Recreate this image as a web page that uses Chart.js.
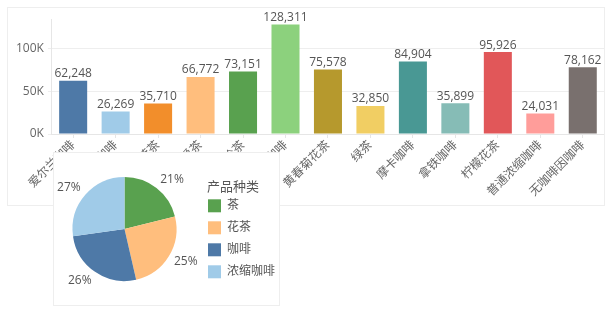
<!DOCTYPE html>
<html>
<head>
<meta charset="utf-8">
<script src="https://cdn.jsdelivr.net/npm/chart.js@4/dist/chart.umd.min.js"></script>
<style>
  body { margin: 0; background: #fff; width: 616px; height: 314px; position: relative; overflow: hidden; }
  #barBox { position: absolute; left: 7px; top: 7px; width: 598px; height: 199px; border: 1px solid #eee; box-sizing: border-box; }
  #pieBox { position: absolute; left: 53px; top: 152px; width: 227px; height: 154px; border: 1px solid #eee; box-sizing: border-box; background: #fff; }
</style>
</head>
<body>
<div id="barBox"><canvas id="barChart"></canvas></div>
<div id="pieBox"><canvas id="pieChart"></canvas></div>
<script>
const FONT = "'Open Sans', 'Noto Sans CJK SC', sans-serif";
const TXT = '#555';

// 产品销售额
const products = ['爱尔兰咖啡', '杏仁咖啡', '薄荷茶', '伯爵茶', '大吉岭茶', '哥伦比亚咖啡', '黄春菊花茶',
                  '绿茶', '摩卡咖啡', '拿铁咖啡', '柠檬花茶', '普通浓缩咖啡', '无咖啡因咖啡'];
const sales = [62248, 26269, 35710, 66772, 73151, 128311, 75578, 32850, 84904, 35899, 95926, 24031, 78162];
const barColors = ['#4E79A7', '#A0CBE8', '#F28E2B', '#FFBE7D', '#59A14F', '#8CD17D', '#B6992D',
                   '#F1CE63', '#499894', '#86BCB6', '#E15759', '#FF9D9A', '#79706E'];
const yTicks = [0, 50000, 100000];

// 产品种类占比
const legendTitle = '产品种类';
const types = ['茶', '花茶', '咖啡', '浓缩咖啡'];
const typeShare = [21.1, 25.3, 26.4, 27.2];
const typeColors = ['#59A14F', '#FFBE7D', '#4E79A7', '#A0CBE8'];

// 柱子上方的数值
const barLabels = {
    id: 'barLabels',
    afterDatasetsDraw(chart) {
        const c = chart.ctx;
        c.save();
        c.font = '12px ' + FONT;
        c.fillStyle = TXT;
        c.textAlign = 'center';
        c.textBaseline = 'bottom';
        chart.getDatasetMeta(0).data.forEach((bar, i) => {
            c.fillText(sales[i].toLocaleString('en-US'), bar.x, bar.y - 1);
        });
        c.restore();
    }
};

// 饼图外侧百分比 + 图例位置微调
const pieLabels = {
    id: 'pieLabels',
    afterLayout(chart) {
        chart.legend.left += 10;
        chart.legend.right += 10;
    },
    afterDatasetsDraw(chart) {
        const c = chart.ctx;
        c.save();
        c.font = '12px ' + FONT;
        c.fillStyle = TXT;
        c.textBaseline = 'middle';
        chart.getDatasetMeta(0).data.forEach((arc, i) => {
            const mid = (arc.startAngle + arc.endAngle) / 2;
            const cx = Math.cos(mid), sy = Math.sin(mid);
            c.textAlign = cx >= 0 ? 'left' : 'right';
            c.fillText(Math.round(typeShare[i]) + '%',
                       arc.x + cx * (arc.outerRadius + 6), arc.y + sy * (arc.outerRadius + 11));
        });
        c.restore();
    },
    afterDraw(chart) {
        // 图例标题
        const lg = chart.legend;
        const first = lg.legendHitBoxes[0];
        const c = chart.ctx;
        c.save();
        c.font = '13px ' + FONT;
        c.fillStyle = TXT;
        c.textAlign = 'left';
        c.textBaseline = 'middle';
        c.fillText(legendTitle, lg.left + 8, first.top - 12);
        c.restore();
    }
};

new Chart(document.getElementById('barChart'), {
    type: 'bar',
    data: {
        labels: products,
        datasets: [{
            data: sales,
            backgroundColor: barColors,
            categoryPercentage: 0.66,
            barPercentage: 1
        }]
    },
    options: {
        responsive: true,
        maintainAspectRatio: false,
        animation: false,
        layout: { padding: { top: 0, right: 0, left: 4, bottom: 0 } },
        plugins: { legend: { display: false }, tooltip: { enabled: false } },
        scales: {
            x: {
                afterFit: (scale) => { scale.height = 71; },
                grid: { display: true, drawOnChartArea: false, offset: false, tickLength: 4, color: '#e6e6e6' },
                border: { color: '#e6e6e6' },
                ticks: { color: '#666', font: { family: FONT, size: 12 }, maxRotation: 45, minRotation: 45, padding: 0 }
            },
            y: {
                min: 0,
                max: 134500,
                afterBuildTicks: (scale) => { scale.ticks = yTicks.map(v => ({ value: v })); },
                grid: { color: '#eee', tickLength: 4 },
                border: { color: '#e6e6e6' },
                ticks: { color: '#666', font: { family: FONT, size: 12 }, padding: 4,
                         callback: (v) => (v / 1000) + 'K' }
            }
        }
    },
    plugins: [barLabels]
});

new Chart(document.getElementById('pieChart'), {
    type: 'pie',
    data: {
        labels: types,
        datasets: [{ data: typeShare, backgroundColor: typeColors, borderWidth: 0, radius: 52 }]
    },
    options: {
        responsive: true,
        maintainAspectRatio: false,
        animation: false,
        layout: { padding: { top: 0, bottom: 0, left: 6, right: 4 } },
        plugins: {
            tooltip: { enabled: false },
            legend: {
                position: 'right',
                title: { display: true, text: legendTitle, color: 'rgba(0,0,0,0)', font: { family: FONT, size: 13 }, padding: 2, position: 'start' },
                labels: { boxWidth: 13, boxHeight: 13, padding: 9, color: TXT, font: { family: FONT, size: 12 } }
            }
        }
    },
    plugins: [pieLabels]
});
</script>
</body>
</html>
